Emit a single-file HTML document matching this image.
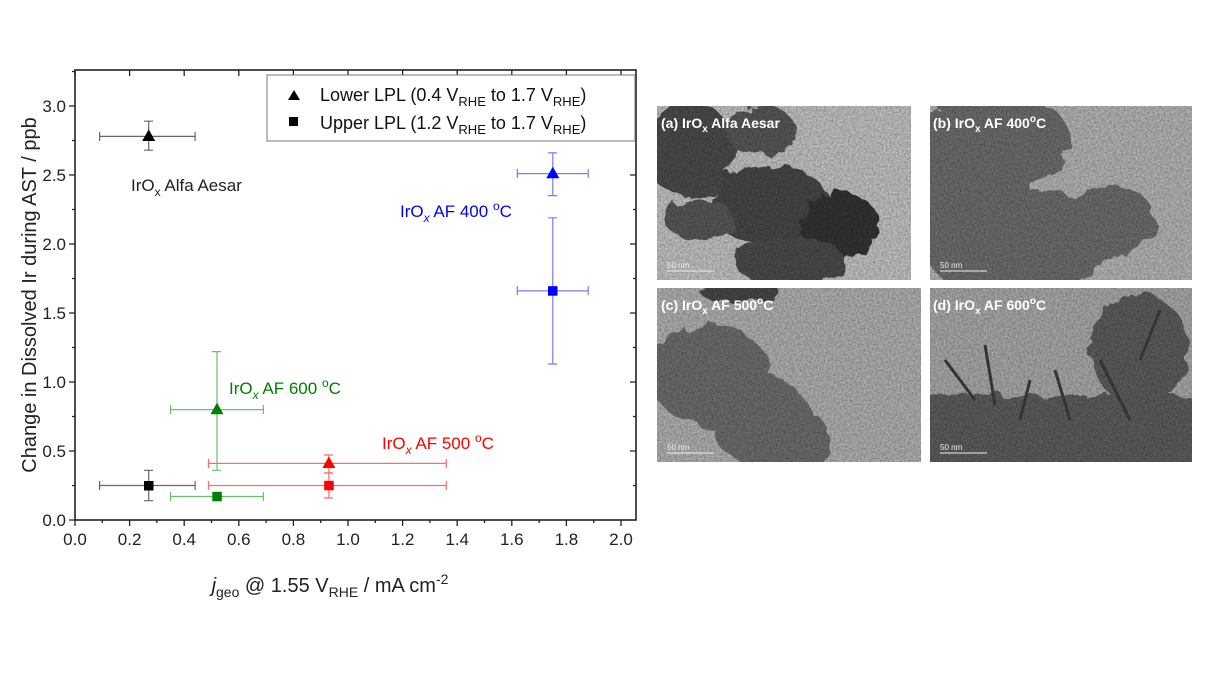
<!DOCTYPE html>
<html><head><meta charset="utf-8"><style>
body{margin:0;background:#fff;}
svg{display:block;font-family:"Liberation Sans",Arial,sans-serif;}
</style></head><body>
<svg width="1212" height="684" viewBox="0 0 1212 684" xmlns="http://www.w3.org/2000/svg">
<defs>
<filter id="blob"><feTurbulence type="fractalNoise" baseFrequency="0.05" numOctaves="3" seed="7"/><feDisplacementMap in="SourceGraphic" scale="18"/></filter>
<filter id="tex" x="0" y="0" width="100%" height="100%"><feTurbulence type="fractalNoise" baseFrequency="0.5" numOctaves="2" seed="4"/><feColorMatrix type="matrix" values="0 0 0 0 0 0 0 0 0 0 0 0 0 0 0 0.5 0 0 0 -0.15"/></filter>
</defs>
<rect x="75" y="70" width="561" height="450" fill="none" stroke="#222" stroke-width="1.6"/>
<g stroke="#222" stroke-width="1.3">
<path d="M75 520v6M129.6 520v6M184.2 520v6M238.8 520v6M293.4 520v6M348 520v6M402.6 520v6M457.2 520v6M511.8 520v6M566.4 520v6M621 520v6
M102.3 520v3M156.9 520v3M211.5 520v3M266.1 520v3M320.7 520v3M375.3 520v3M429.9 520v3M484.5 520v3M539.1 520v3M593.7 520v3
M75 70v6M129.6 70v6M184.2 70v6M238.8 70v6M293.4 70v6M348 70v6M402.6 70v6M457.2 70v6M511.8 70v6M566.4 70v6M621 70v6"/>
<path d="M75 520h-6M75 451h-6M75 382h-6M75 313h-6M75 244h-6M75 175h-6M75 106h-6
M75 485.5h-3M75 416.5h-3M75 347.5h-3M75 278.5h-3M75 209.5h-3M75 140.5h-3M75 71.5h-3
M636 451h-6M636 382h-6M636 313h-6M636 244h-6M636 175h-6M636 106h-6
M636 485.5h-3M636 416.5h-3M636 347.5h-3M636 278.5h-3M636 209.5h-3M636 140.5h-3"/>
</g>
<g font-size="17" fill="#222" text-anchor="middle">
<text x="75" y="545">0.0</text><text x="129.6" y="545">0.2</text><text x="184.2" y="545">0.4</text><text x="238.8" y="545">0.6</text><text x="293.4" y="545">0.8</text><text x="348" y="545">1.0</text><text x="402.6" y="545">1.2</text><text x="457.2" y="545">1.4</text><text x="511.8" y="545">1.6</text><text x="566.4" y="545">1.8</text><text x="621" y="545">2.0</text>
</g>
<g font-size="17" fill="#222" text-anchor="end">
<text x="66" y="526">0.0</text><text x="66" y="457">0.5</text><text x="66" y="388">1.0</text><text x="66" y="319">1.5</text><text x="66" y="250">2.0</text><text x="66" y="181">2.5</text><text x="66" y="112">3.0</text>
</g>
<text x="330" y="592" font-size="20" fill="#222" text-anchor="middle"><tspan font-style="italic">j</tspan><tspan font-size="14" dy="5">geo</tspan><tspan dy="-5"> @ 1.55 V</tspan><tspan font-size="14" dy="5">RHE</tspan><tspan dy="-5"> / mA cm</tspan><tspan font-size="14" dy="-8">-2</tspan></text>
<text transform="translate(36 295) rotate(-90)" font-size="20" fill="#222" text-anchor="middle">Change in Dissolved Ir during AST / ppb</text>
<rect x="267" y="75" width="368" height="66" fill="#fff" stroke="#777" stroke-width="1"/>
<polygon points="294,90 288,100 300,100" fill="#000"/>
<rect x="289" y="117" width="9" height="9" fill="#000"/>
<text x="320" y="101" font-size="18" fill="#111">Lower LPL (0.4 V<tspan font-size="13" dy="5">RHE</tspan><tspan dy="-5"> to 1.7 V</tspan><tspan font-size="13" dy="5">RHE</tspan><tspan dy="-5">)</tspan></text>
<text x="320" y="129" font-size="18" fill="#111">Upper LPL (1.2 V<tspan font-size="13" dy="5">RHE</tspan><tspan dy="-5"> to 1.7 V</tspan><tspan font-size="13" dy="5">RHE</tspan><tspan dy="-5">)</tspan></text>
<g stroke-width="1.2" fill="none">
<path stroke="#666" d="M99.6 136.4H195.1M99.6 132v9M195.1 132v9M148.7 150.2V121.2M144 150.2h9M144 121.2h9"/>
<path stroke="#666" d="M99.6 485.5H195.1M99.6 481v9M195.1 481v9M148.7 500.7V470.3M144 500.7h9M144 470.3h9"/>
<path stroke="#7a7aff" d="M517.3 173.6H588.2M517.3 169v9M588.2 169v9M552.8 195.6V152.9M548 195.6h9M548 152.9h9"/>
<path stroke="#7a7aff" d="M517.3 290.9H588.2M517.3 286v9M588.2 286v9M552.8 364V217.8M548 364h9M548 217.8h9"/>
<path stroke="#6cbf6c" d="M170.6 409.6H263.4M170.6 405v9M263.4 405v9M217 470.3V351.6M212 470.3h9M212 351.6h9"/>
<path stroke="#6cbf6c" d="M170.6 496.5H263.4M170.6 492v9M263.4 492v9"/>
<path stroke="#ff6b6b" d="M208.5 463.4H446.3M208.5 459v9M446.3 459v9M328.9 473V455M324 473h9M324 455h9"/>
<path stroke="#ff6b6b" d="M208.5 485.5H446.3M208.5 481v9M446.3 481v9M328.9 498V473M324 498h9M324 473h9"/>
</g>
<polygon points="148.7,129.4 142.2,141 155.2,141" fill="#000"/>
<rect x="144" y="481" width="9.5" height="9.5" fill="#000"/>
<polygon points="552.8,166.6 546.3,178.2 559.3,178.2" fill="#0000ff"/>
<rect x="548" y="286.2" width="9.5" height="9.5" fill="#0000ff"/>
<polygon points="217,402.6 210.5,414.2 223.5,414.2" fill="#008000"/>
<rect x="212.3" y="491.8" width="9.5" height="9.5" fill="#008000"/>
<polygon points="328.9,456.4 322.4,468 335.4,468" fill="#ff0000"/>
<rect x="324.2" y="480.8" width="9.5" height="9.5" fill="#ff0000"/>
<text x="131" y="191" font-size="17" fill="#222">IrO<tspan font-size="12" dy="5">x</tspan><tspan dy="-5"> Alfa Aesar</tspan></text>
<text x="400" y="217" font-size="17" fill="#0000ff">IrO<tspan font-size="12" dy="5" font-style="italic">x</tspan><tspan dy="-5"> AF 400 </tspan><tspan font-size="12" dy="-7">o</tspan><tspan dy="7">C</tspan></text>
<text x="229" y="394" font-size="17" fill="#008000">IrO<tspan font-size="12" dy="5" font-style="italic">x</tspan><tspan dy="-5"> AF 600 </tspan><tspan font-size="12" dy="-7">o</tspan><tspan dy="7">C</tspan></text>
<text x="382" y="449" font-size="17" fill="#ff0000">IrO<tspan font-size="12" dy="5" font-style="italic">x</tspan><tspan dy="-5"> AF 500 </tspan><tspan font-size="12" dy="-7">o</tspan><tspan dy="7">C</tspan></text>
<clipPath id="ca"><rect x="657" y="106" width="254" height="174"/></clipPath>
<clipPath id="cb"><rect x="930" y="106" width="262" height="174"/></clipPath>
<clipPath id="cc"><rect x="657" y="288" width="264" height="174"/></clipPath>
<clipPath id="cd"><rect x="930" y="288" width="262" height="174"/></clipPath>
<g clip-path="url(#ca)">
<rect x="657" y="106" width="254" height="174" fill="#bdbdbd"/>
<g filter="url(#blob)">
<ellipse cx="690" cy="150" rx="45" ry="48" fill="#4a4a4a"/><ellipse cx="760" cy="130" rx="35" ry="25" fill="#555"/><ellipse cx="770" cy="205" rx="60" ry="40" fill="#444"/><ellipse cx="840" cy="225" rx="40" ry="32" fill="#333"/><ellipse cx="790" cy="262" rx="55" ry="25" fill="#4a4a4a"/><ellipse cx="700" cy="220" rx="35" ry="20" fill="#555"/>
</g>
<rect x="657" y="106" width="254" height="174" filter="url(#tex)"/>
</g>
<g clip-path="url(#cb)">
<rect x="930" y="106" width="262" height="174" fill="#b0b0b0"/>
<g filter="url(#blob)" fill="#6a6a6a">
<ellipse cx="970" cy="190" rx="60" ry="100"/><ellipse cx="1030" cy="240" rx="85" ry="50"/><ellipse cx="1110" cy="220" rx="45" ry="35"/><ellipse cx="1010" cy="140" rx="60" ry="45"/>
</g>
<rect x="930" y="106" width="262" height="174" filter="url(#tex)"/>
</g>
<g clip-path="url(#cc)">
<rect x="657" y="288" width="264" height="174" fill="#acacac"/>
<g filter="url(#blob)" fill="#6a6a6a">
<ellipse cx="710" cy="375" rx="60" ry="50"/><ellipse cx="760" cy="420" rx="50" ry="45"/><ellipse cx="800" cy="440" rx="30" ry="30"/><ellipse cx="740" cy="292" rx="40" ry="10" fill="#444"/>
</g>
<rect x="657" y="288" width="264" height="174" filter="url(#tex)"/>
</g>
<g clip-path="url(#cd)">
<rect x="930" y="288" width="262" height="174" fill="#a4a4a4"/>
<g filter="url(#blob)" fill="#5a5a5a">
<rect x="925" y="395" width="275" height="75"/><ellipse cx="1140" cy="350" rx="50" ry="55"/>
</g>
<g stroke="#3a3a3a" stroke-width="3"><path d="M945 360l30 40M985 345l10 60M1030 380l-10 40M1055 370l15 50M1100 360l30 60M1160 310l-20 50"/></g>
<rect x="930" y="288" width="262" height="174" filter="url(#tex)"/>
</g>
<g fill="#fff" font-size="14" font-weight="bold">
<text x="661" y="128">(a) IrO<tspan font-size="10" dy="4">x</tspan><tspan dy="-4"> Alfa Aesar</tspan></text>
<text x="933" y="128">(b) IrO<tspan font-size="10" dy="4">x</tspan><tspan dy="-4"> AF 400</tspan><tspan font-size="10" dy="-6">o</tspan><tspan dy="6">C</tspan></text>
<text x="661" y="310">(c) IrO<tspan font-size="10" dy="4">x</tspan><tspan dy="-4"> AF 500</tspan><tspan font-size="10" dy="-6">o</tspan><tspan dy="6">C</tspan></text>
<text x="933" y="310">(d) IrO<tspan font-size="10" dy="4">x</tspan><tspan dy="-4"> AF 600</tspan><tspan font-size="10" dy="-6">o</tspan><tspan dy="6">C</tspan></text>
</g>
<g fill="#eee" font-size="8" stroke="#eee">
<text x="667" y="268" stroke="none">50 nm</text><line x1="667" y1="271" x2="714" y2="271"/>
<text x="940" y="268" stroke="none">50 nm</text><line x1="940" y1="271" x2="987" y2="271"/>
<text x="667" y="450" stroke="none">50 nm</text><line x1="667" y1="453" x2="714" y2="453"/>
<text x="940" y="450" stroke="none">50 nm</text><line x1="940" y1="453" x2="987" y2="453"/>
</g>
</svg>
</body></html>
